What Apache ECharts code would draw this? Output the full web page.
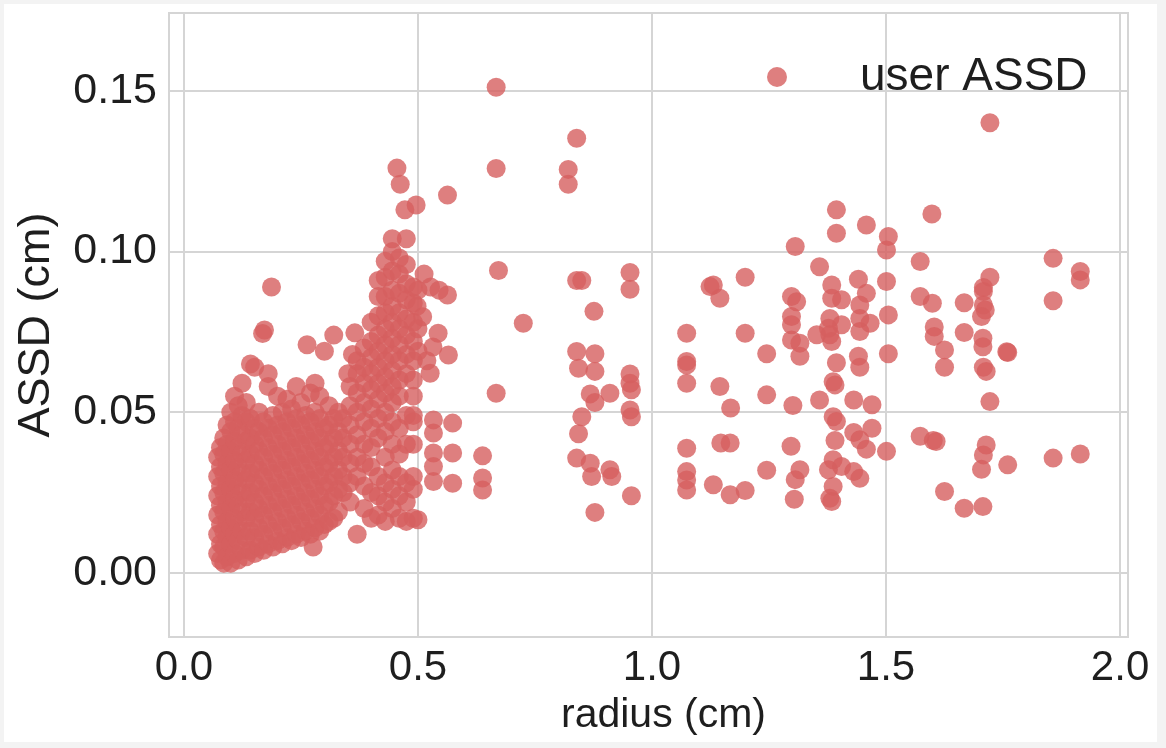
<!DOCTYPE html>
<html>
<head>
<meta charset="utf-8">
<script src="https://cdn.jsdelivr.net/npm/echarts@6/dist/echarts.min.js"></script>
<style>
  html, body { margin: 0; padding: 0; background: #f3f3f3; }
  #chart { width: 1166px; height: 748px; }
</style>
</head>
<body>
<div id="chart"></div>
<script>
// Axis labels and legend text
const xAxisTitle = 'radius (cm)';
const yAxisTitle = 'ASSD (cm)';
const seriesName = 'user ASSD';

// Small radii: dense block of cases, radius 0.07 - 0.33 cm  [radius, ASSD]
const smallCases = [
  [0.072,0.006],[0.072,0.012],[0.072,0.018],[0.072,0.024],[0.072,0.030],[0.072,0.036],
  [0.078,0.004],[0.078,0.009],[0.078,0.015],[0.078,0.021],[0.078,0.027],[0.078,0.033],[0.078,0.039],
  [0.085,0.003],[0.085,0.008],[0.085,0.013],[0.085,0.019],[0.085,0.025],[0.085,0.031],[0.085,0.037],[0.085,0.042],
  [0.092,0.005],[0.092,0.011],[0.092,0.016],[0.092,0.022],[0.092,0.028],[0.092,0.034],[0.092,0.040],[0.092,0.046],
  [0.100,0.003],[0.100,0.009],[0.100,0.014],[0.100,0.020],[0.100,0.026],[0.100,0.032],[0.100,0.038],[0.100,0.044],[0.100,0.050],
  [0.108,0.006],[0.108,0.012],[0.108,0.017],[0.108,0.023],[0.108,0.029],[0.108,0.035],[0.108,0.041],[0.108,0.047],[0.108,0.055],
  [0.116,0.004],[0.116,0.010],[0.116,0.015],[0.116,0.021],[0.116,0.027],[0.116,0.033],[0.116,0.039],[0.116,0.045],[0.116,0.052],
  [0.124,0.007],[0.124,0.013],[0.124,0.019],[0.124,0.025],[0.124,0.031],[0.124,0.037],[0.124,0.043],[0.124,0.049],[0.124,0.059],
  [0.133,0.005],[0.133,0.011],[0.133,0.017],[0.133,0.023],[0.133,0.029],[0.133,0.035],[0.133,0.041],[0.133,0.047],[0.133,0.053],
  [0.142,0.007],[0.142,0.013],[0.142,0.019],[0.142,0.025],[0.142,0.031],[0.142,0.037],[0.142,0.042],[0.142,0.048],[0.142,0.065],
  [0.151,0.006],[0.151,0.011],[0.151,0.017],[0.151,0.022],[0.151,0.028],[0.151,0.034],[0.151,0.040],[0.151,0.045],[0.151,0.064],
  [0.160,0.008],[0.160,0.014],[0.160,0.020],[0.160,0.026],[0.160,0.032],[0.160,0.038],[0.160,0.044],[0.160,0.050],
  [0.170,0.007],[0.170,0.012],[0.170,0.018],[0.170,0.024],[0.170,0.030],[0.170,0.036],[0.170,0.042],[0.170,0.047],[0.168,0.0745],[0.172,0.0756],
  [0.180,0.009],[0.180,0.015],[0.180,0.021],[0.180,0.027],[0.180,0.033],[0.180,0.039],[0.180,0.045],[0.180,0.058],[0.180,0.062],
  [0.187,0.089],
  [0.190,0.008],[0.190,0.013],[0.190,0.019],[0.190,0.025],[0.190,0.031],[0.190,0.037],[0.190,0.043],[0.190,0.049],
  [0.200,0.010],[0.200,0.016],[0.200,0.022],[0.200,0.028],[0.200,0.034],[0.200,0.040],[0.200,0.046],[0.200,0.055],
  [0.210,0.009],[0.210,0.014],[0.210,0.020],[0.210,0.026],[0.210,0.032],[0.210,0.038],[0.210,0.044],[0.210,0.050],
  [0.220,0.011],[0.220,0.017],[0.220,0.023],[0.220,0.029],[0.220,0.035],[0.220,0.041],[0.220,0.047],[0.220,0.054],
  [0.230,0.010],[0.230,0.015],[0.230,0.021],[0.230,0.027],[0.230,0.033],[0.230,0.039],[0.230,0.045],[0.230,0.051],
  [0.240,0.012],[0.240,0.018],[0.240,0.024],[0.240,0.030],[0.240,0.036],[0.240,0.042],[0.240,0.048],[0.240,0.058],
  [0.250,0.011],[0.250,0.016],[0.250,0.022],[0.250,0.028],[0.250,0.034],[0.250,0.040],[0.250,0.046],[0.250,0.053],
  [0.260,0.013],[0.260,0.019],[0.260,0.025],[0.260,0.031],[0.260,0.037],[0.260,0.043],[0.260,0.049],[0.263,0.071],
  [0.270,0.012],[0.270,0.017],[0.270,0.023],[0.270,0.029],[0.270,0.035],[0.270,0.041],[0.270,0.047],[0.270,0.056],
  [0.276,0.008],
  [0.280,0.014],[0.280,0.020],[0.280,0.026],[0.280,0.032],[0.280,0.038],[0.280,0.044],[0.280,0.050],[0.280,0.059],
  [0.290,0.013],[0.290,0.018],[0.290,0.024],[0.290,0.030],[0.290,0.036],[0.290,0.042],[0.290,0.048],[0.290,0.055],
  [0.300,0.015],[0.300,0.021],[0.300,0.027],[0.300,0.033],[0.300,0.039],[0.300,0.045],[0.300,0.069],
  [0.310,0.016],[0.310,0.022],[0.310,0.028],[0.310,0.034],[0.310,0.040],[0.310,0.046],[0.310,0.052],
  [0.320,0.017],[0.320,0.024],[0.320,0.030],[0.320,0.036],[0.320,0.042],[0.320,0.048],[0.320,0.074],
  [0.330,0.019],[0.330,0.026],[0.330,0.032],[0.330,0.038],[0.330,0.044],[0.330,0.050]
];

// Medium radii: rising band, radius 0.34 - 0.57 cm  [radius, ASSD]
const mediumCases = [
  [0.340,0.025],[0.340,0.030],[0.340,0.036],[0.340,0.042],[0.340,0.048],
  [0.350,0.062],[0.360,0.068],[0.365,0.0747],
  [0.355,0.022],[0.355,0.028],[0.355,0.034],[0.355,0.040],[0.355,0.046],[0.355,0.052],[0.355,0.058],
  [0.370,0.012],[0.370,0.030],[0.370,0.036],[0.370,0.043],[0.370,0.050],[0.370,0.056],[0.370,0.062],[0.370,0.066],
  [0.385,0.020],[0.385,0.027],[0.385,0.034],[0.385,0.040],[0.385,0.047],[0.385,0.053],[0.385,0.059],[0.385,0.064],[0.385,0.070],
  [0.400,0.017],[0.400,0.025],[0.400,0.033],[0.400,0.039],[0.400,0.045],[0.400,0.051],[0.400,0.057],[0.400,0.062],[0.400,0.067],[0.400,0.072],[0.400,0.078],
  [0.415,0.018],[0.415,0.024],[0.415,0.030],[0.415,0.042],[0.415,0.048],[0.415,0.054],[0.415,0.059],[0.415,0.064],[0.415,0.069],[0.415,0.074],[0.415,0.080],[0.415,0.086],[0.415,0.091],
  [0.430,0.016],[0.430,0.022],[0.430,0.028],[0.430,0.036],[0.430,0.044],[0.430,0.050],[0.430,0.056],[0.430,0.061],[0.430,0.066],[0.430,0.071],[0.430,0.076],[0.430,0.081],[0.430,0.086],[0.430,0.092],[0.430,0.097],
  [0.445,0.020],[0.445,0.026],[0.445,0.032],[0.445,0.040],[0.445,0.047],[0.445,0.053],[0.445,0.058],[0.445,0.063],[0.445,0.068],[0.445,0.073],[0.445,0.078],[0.445,0.083],[0.445,0.088],[0.445,0.094],[0.445,0.100],[0.445,0.104],
  [0.460,0.017],[0.460,0.024],[0.460,0.030],[0.460,0.037],[0.460,0.045],[0.460,0.055],[0.460,0.060],[0.460,0.066],[0.460,0.071],[0.460,0.076],[0.460,0.081],[0.460,0.087],[0.460,0.093],[0.460,0.098],
  [0.455,0.126],[0.462,0.121],[0.472,0.113],
  [0.475,0.016],[0.475,0.022],[0.475,0.028],[0.475,0.040],[0.475,0.049],[0.475,0.062],[0.475,0.068],[0.475,0.074],[0.475,0.079],[0.475,0.085],[0.475,0.090],[0.475,0.096],[0.475,0.104],
  [0.490,0.017],[0.490,0.026],[0.490,0.030],[0.490,0.040],[0.490,0.047],[0.490,0.049],[0.490,0.055],[0.490,0.060],[0.490,0.066],[0.490,0.072],[0.490,0.078],[0.490,0.084],[0.490,0.089],
  [0.496,0.1145],[0.500,0.0165],[0.500,0.069],[0.500,0.076],[0.498,0.083],[0.500,0.088],
  [0.510,0.0797],[0.513,0.093],[0.519,0.066],[0.527,0.089],[0.532,0.0703],[0.545,0.088],
  [0.526,0.0621],[0.543,0.0746],[0.565,0.0678],[0.563,0.0865],[0.563,0.1176],
  [0.533,0.0476],[0.533,0.0435],[0.533,0.0373],[0.533,0.0331],[0.533,0.0284],
  [0.574,0.0466],[0.574,0.0373],[0.574,0.0279]
];

// Large radii: sparse cases, radius 0.6 - 1.95 cm  [radius, ASSD]
const largeCases = [
  [0.638,0.0364],[0.638,0.0295],[0.638,0.0258],
  [0.667,0.1512],[0.667,0.1259],[0.672,0.0941],[0.667,0.0559],[0.725,0.0777],
  [0.821,0.1256],[0.821,0.1210],[0.839,0.1353],[0.839,0.0910],[0.850,0.0910],[0.876,0.0814],
  [0.839,0.0689],[0.878,0.0682],[0.843,0.0637],[0.878,0.0627],[0.868,0.0557],[0.910,0.0559],[0.878,0.0530],
  [0.850,0.0486],[0.843,0.0433],[0.839,0.0357],[0.868,0.0341],[0.871,0.0300],[0.910,0.0321],[0.914,0.0300],[0.878,0.0188],
  [0.953,0.0935],[0.953,0.0883],[0.953,0.0619],[0.953,0.0590],[0.956,0.0570],[0.953,0.0507],[0.956,0.0486],[0.956,0.0240],
  [1.074,0.0746],[1.074,0.0658],[1.074,0.0647],[1.074,0.0590],[1.074,0.0388],[1.074,0.0315],[1.074,0.0289],[1.074,0.0258],
  [1.124,0.0891],[1.131,0.0896],[1.145,0.0855],[1.145,0.0580],[1.168,0.0513],[1.147,0.0404],[1.167,0.0404],[1.131,0.0274],[1.167,0.0243],
  [1.199,0.0920],[1.199,0.0746],[1.199,0.0256],[1.245,0.0682],[1.245,0.0554],[1.245,0.0319],
  [1.306,0.1016],[1.298,0.0860],[1.309,0.0844],[1.298,0.0798],[1.298,0.0772],[1.298,0.0725],[1.316,0.0715],[1.316,0.0674],
  [1.301,0.0521],[1.297,0.0394],[1.316,0.0321],[1.306,0.0290],[1.304,0.0229],
  [1.358,0.0953],[1.352,0.0741],[1.358,0.0538],
  [1.394,0.1130],[1.394,0.1057],[1.384,0.0896],[1.384,0.0855],[1.380,0.0792],[1.377,0.0761],[1.380,0.0741],[1.384,0.0720],
  [1.394,0.0654],[1.387,0.0595],[1.391,0.0585],[1.387,0.0486],[1.394,0.0471],[1.391,0.0412],[1.387,0.0352],[1.377,0.0321],
  [1.387,0.0269],[1.380,0.0232],[1.384,0.0222],
  [1.405,0.0850],[1.405,0.0772],[1.405,0.0331],
  [1.431,0.0538],[1.431,0.0437],[1.431,0.0315],
  [1.441,0.0914],[1.444,0.0834],[1.444,0.0792],[1.444,0.0751],[1.441,0.0674],[1.444,0.0640],[1.444,0.0414],[1.444,0.0294],
  [1.458,0.1083],[1.458,0.0870],[1.466,0.0777],[1.470,0.0523],[1.470,0.0450],[1.458,0.0385],
  [1.505,0.1047],[1.501,0.1005],[1.501,0.0907],[1.505,0.0803],[1.505,0.0682],[1.501,0.0378],
  [1.573,0.0969],[1.573,0.0860],[1.573,0.0425],
  [1.598,0.1117],[1.599,0.0839],[1.603,0.0765],[1.603,0.0736],[1.601,0.0412],[1.607,0.0409],
  [1.625,0.0694],[1.625,0.0640],[1.625,0.0253],
  [1.667,0.0841],[1.667,0.0748],[1.667,0.0201],
  [1.722,0.1401],[1.722,0.0920],[1.708,0.0888],[1.708,0.0876],[1.708,0.0834],[1.712,0.0818],[1.704,0.0798],
  [1.707,0.0730],[1.707,0.0704],[1.708,0.0640],[1.714,0.0627],[1.722,0.0533],[1.714,0.0398],[1.708,0.0367],
  [1.704,0.0322],[1.707,0.0206],
  [1.760,0.0686],[1.758,0.0688],[1.760,0.0336],
  [1.857,0.0979],[1.857,0.0847],[1.857,0.0357],
  [1.915,0.0938],[1.915,0.0912],[1.915,0.0370]
];

const points = smallCases.concat(mediumCases, largeCases);

const textColor = '#1e1e1e';
const gridColor = '#d5d5d5';
const fontFamily = '"Liberation Sans", Arial, sans-serif';

const chart = echarts.init(document.getElementById('chart'), null, { renderer: 'canvas' });

chart.setOption({
  backgroundColor: '#f3f3f3',
  animation: false,
  textStyle: { fontFamily: fontFamily, color: textColor },
  graphic: [{
    type: 'rect',
    z: -10,
    silent: true,
    shape: { x: 4, y: 4, width: 1153, height: 738 },
    style: { fill: '#ffffff' }
  }],
  grid: {
    left: 169, top: 13, right: 38, bottom: 111,
    show: true,
    backgroundColor: '#ffffff',
    borderColor: gridColor,
    borderWidth: 2
  },
  legend: {
    show: true,
    left: 767,
    top: 54,
    padding: 0,
    icon: 'circle',
    itemWidth: 156,
    itemHeight: 20,
    textStyle: { fontSize: 46, color: textColor, fontFamily: fontFamily },
    data: [seriesName]
  },
  xAxis: {
    type: 'value',
    min: -0.032,
    max: 2.017,
    splitNumber: 4,
    name: xAxisTitle,
    nameLocation: 'middle',
    nameGap: 58,
    nameTextStyle: { fontSize: 41, color: textColor, fontFamily: fontFamily, padding: [0, 0, 0, 30] },
    axisLine: { show: false },
    axisTick: { show: false },
    axisLabel: {
      margin: 10,
      fontSize: 42,
      color: textColor,
      showMinLabel: false,
      showMaxLabel: false,
      formatter: function (v) {
        return Math.abs(v / 0.5 - Math.round(v / 0.5)) < 1e-6 ? v.toFixed(1) : '';
      }
    },
    splitLine: { show: true, lineStyle: { color: gridColor, width: 2 } }
  },
  yAxis: {
    type: 'value',
    min: -0.02,
    max: 0.1743,
    splitNumber: 4,
    name: yAxisTitle,
    nameLocation: 'middle',
    nameGap: 110,
    nameRotate: 90,
    nameTextStyle: { fontSize: 45, color: textColor, fontFamily: fontFamily },
    axisLine: { show: false },
    axisTick: { show: false },
    axisLabel: {
      margin: 12,
      fontSize: 43,
      color: textColor,
      showMinLabel: false,
      showMaxLabel: false,
      formatter: function (v) {
        return Math.abs(v / 0.05 - Math.round(v / 0.05)) < 1e-6 ? v.toFixed(2) : '';
      }
    },
    splitLine: { show: true, lineStyle: { color: gridColor, width: 2 } }
  },
  series: [{
    name: seriesName,
    type: 'scatter',
    symbol: 'circle',
    symbolSize: 19,
    data: points,
    itemStyle: { color: '#d65f5f', opacity: 0.8 }
  }]
});
</script>
</body>
</html>
